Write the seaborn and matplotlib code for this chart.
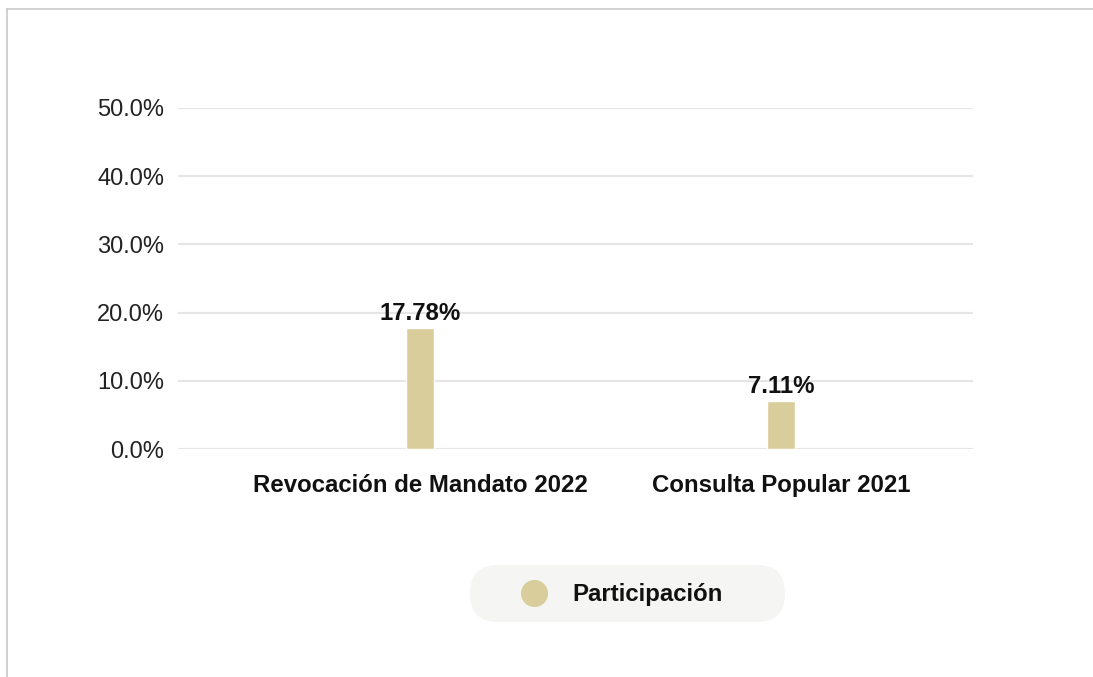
import pandas as pd
import numpy as np
import matplotlib.pyplot as plt
import seaborn as sns
from matplotlib.patches import FancyBboxPatch
from matplotlib.lines import Line2D
from matplotlib.transforms import IdentityTransform

# Data
categories = ["Revocación de Mandato 2022", "Consulta Popular 2021"]
participacion = [17.78, 7.11]
value_labels = ["17.78%", "7.11%"]
y_ticks = [0, 10, 20, 30, 40, 50]
y_tick_labels = ["0.0%", "10.0%", "20.0%", "30.0%", "40.0%", "50.0%"]
series_name = "Participación"

df = pd.DataFrame({"Consulta": categories, series_name: participacion})

sns.set_style("white")
plt.rcParams["font.family"] = ["Liberation Sans", "DejaVu Sans"]

bar_color = "#dacd9c"
W, H = 1093, 677
fig = plt.figure(figsize=(W / 100, H / 100), dpi=100)
ax = fig.add_axes([178 / W, (H - 449) / H, (973 - 178) / W, (449 - 108) / H])

sns.barplot(data=df, x="Consulta", y=series_name, color=bar_color,
            width=0.0776, saturation=1, ax=ax, zorder=3)

ax.set_xlim(-0.670, 1.532)
ax.set_ylim(0, 50)
ax.set_yticks(y_ticks)
ax.set_yticklabels(y_tick_labels)
ax.yaxis.grid(True, color="#e6e6e6", linewidth=1.6, zorder=0)
ax.tick_params(axis="y", length=0, pad=10, labelsize=17, labelcolor="#222222")
ax.tick_params(axis="x", length=0, pad=18, labelsize=17.3, labelcolor="#111111")
for lbl in ax.get_xticklabels():
    lbl.set_fontweight("bold")
for s in ax.spines.values():
    s.set_visible(False)
ax.set_xlabel("")
ax.set_ylabel("")

for i, (v, t) in enumerate(zip(participacion, value_labels)):
    ax.annotate(t, (i, v), xytext=(0, 2), textcoords="offset points",
                ha="center", va="bottom", fontsize=17.3, fontweight="bold",
                color="#111111")

# Legend pill
pill = FancyBboxPatch((470, H - 622), 315, 57,
                      boxstyle="round,pad=0,rounding_size=28",
                      transform=IdentityTransform(), facecolor="#f5f5f3",
                      edgecolor="none", zorder=1)
fig.patches.append(pill)
fig.add_artist(Line2D([534 / W], [(H - 593) / H], marker="o", markersize=18.5,
                      color=bar_color, linestyle="none", transform=fig.transFigure))
fig.text(572 / W, (H - 594) / H, series_name, ha="left", va="center",
         fontsize=17.3, fontweight="bold", color="#111111")

# Outer border lines (top and left)
fig.add_artist(Line2D([7 / W, 1], [(H - 9) / H, (H - 9) / H], color="#c8c8c8",
                      linewidth=1.2, transform=fig.transFigure))
fig.add_artist(Line2D([7 / W, 7 / W], [0, (H - 9) / H], color="#c8c8c8",
                      linewidth=1.2, transform=fig.transFigure))

fig.savefig("out.png", dpi=100)
